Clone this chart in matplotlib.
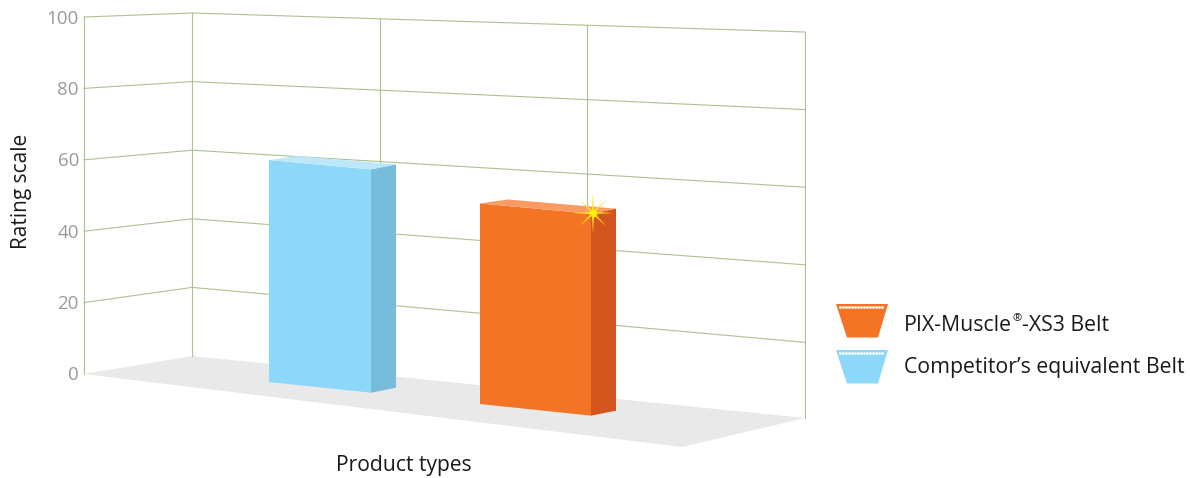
import matplotlib
matplotlib.use("Agg")
import matplotlib.pyplot as plt
import numpy as np
from matplotlib.patches import Polygon

plt.rcParams["font.family"] = ["Open Sans", "DejaVu Sans"]

rating_ticks = [0, 20, 40, 60, 80, 100]
belt_names = [("Competitor’s equivalent Belt", "", ""), ("PIX-Muscle", "®", "-XS3 Belt")]
belt_ratings = [60, 54.2]

GRID = "#adc291"
TICK = "#9a9a9a"
TEXT = "#1a1a1a"
BELT_COLORS = [("#8dd7f8", "#75bdda", "#bfe7fa"), ("#f37424", "#d2551d", "#f89c64")]

# fake 3d: pixel position of value v on the three wall edges
LEFT_X, BACK_X, RIGHT_X = 84, 192, 805
FLOOR_Y = {LEFT_X: 374, BACK_X: 356, RIGHT_X: 420}
PX_PER_UNIT = {LEFT_X: 3.57, BACK_X: 3.43, RIGHT_X: 3.88}


def wall_y(edge, v):
    return FLOOR_Y[edge] - PX_PER_UNIT[edge] * v


def back_wall_y(x, v):
    t = (x - BACK_X) / (RIGHT_X - BACK_X)
    return wall_y(BACK_X, v) * (1 - t) + wall_y(RIGHT_X, v) * t


fig = plt.figure(figsize=(11.9, 4.78), dpi=100)
ax = fig.add_axes([0, 0, 1, 1])
ax.set_xlim(0, 1190)
ax.set_ylim(478, 0)
ax.axis("off")

# floor
ax.add_patch(Polygon([(LEFT_X, FLOOR_Y[LEFT_X]), (BACK_X, FLOOR_Y[BACK_X]),
                      (RIGHT_X, 418), (682, 447)],
                     facecolor="#e9e9e9", edgecolor="none", zorder=1))

# walls
for v in rating_ticks:
    if v > 0:
        ax.plot([LEFT_X, BACK_X, RIGHT_X],
                [wall_y(LEFT_X, v), wall_y(BACK_X, v), wall_y(RIGHT_X, v)],
                color=GRID, lw=0.8, zorder=2)
    ax.text(LEFT_X - 5, wall_y(LEFT_X, v) + 1.5, str(v), color=TICK, fontsize=13.5,
            ha="right", va="center", zorder=5)

for x in [LEFT_X, BACK_X, 380, 587, RIGHT_X]:
    if x == LEFT_X:
        y0, y1 = wall_y(LEFT_X, 0), wall_y(LEFT_X, 100)
    elif x == RIGHT_X:
        y0, y1 = 418, wall_y(RIGHT_X, 100)
    else:
        y0, y1 = back_wall_y(x, 0), back_wall_y(x, 100)
    ax.plot([x, x], [y0, y1], color=GRID, lw=0.8, zorder=2)

# bars
bar_left = [269, 480]
bar_width = [102, 111]
bar_base = [382, 404]
top_slope = 0.092
base_slope = 0.105
depth = (25, -5)
PX_BAR = 3.7

for i, rating in enumerate(belt_ratings):
    front, side, top = BELT_COLORS[i]
    x0, x1 = bar_left[i], bar_left[i] + bar_width[i]
    b0 = bar_base[i]
    b1 = b0 + bar_width[i] * base_slope
    t0 = b0 - rating * PX_BAR
    t1 = t0 + bar_width[i] * top_slope
    dx, dy = depth
    ax.add_patch(Polygon([(x0, t0), (x1, t1), (x1, b1), (x0, b0)],
                         facecolor=front, edgecolor="none", zorder=3))
    ax.add_patch(Polygon([(x1, t1), (x1 + dx, t1 + dy), (x1 + dx, b1 + dy), (x1, b1)],
                         facecolor=side, edgecolor="none", zorder=3))
    ax.add_patch(Polygon([(x0, t0), (x0 + 28, t0 - 4), (x1 + dx, t1 + dy), (x1, t1)],
                         facecolor=top, edgecolor="none", zorder=3))

# sparkle on the orange bar
star_x, star_y = 593, 213
angles = np.linspace(0, 2 * np.pi, 16, endpoint=False)
radii = np.array([21, 2.6, 19, 2.6] * 4)
ax.add_patch(Polygon(np.c_[star_x + radii * np.cos(angles), star_y + radii * np.sin(angles)],
                     facecolor="#ffe21a", edgecolor="none", zorder=4))
ax.scatter([star_x], [star_y], s=30, color="#fff000", linewidths=0, zorder=4)

# legend, v-belt icons
legend_top = [350, 304]
legend_base = [373, 331]
for i, (before, mark, after) in enumerate(belt_names):
    y = legend_top[i]
    color = BELT_COLORS[i][0]
    ax.add_patch(Polygon([(836, y), (888, y), (878, y + 33.5), (847, y + 33.5)],
                         facecolor=color, edgecolor="none", zorder=3))
    ax.plot(np.arange(840, 885, 3), [y + 3.2] * 15, ls="none", marker="o", ms=2,
            mfc="white", mec="none", zorder=4)
    t = ax.text(903.5, legend_base[i], before, color=TEXT, fontsize=15.3, va="baseline", ha="left")
    if mark:
        fig.canvas.draw()
        end = t.get_window_extent().x1
        t2 = ax.text(end + 1, legend_base[i] - 10, mark, color=TEXT, fontsize=8, va="baseline", ha="left")
        end = t2.get_window_extent().x1
        ax.text(end, legend_base[i], after, color=TEXT, fontsize=15.3, va="baseline", ha="left")

ax.text(404, 465.5, "Product types", color=TEXT, fontsize=15.2, ha="center", va="center")
ax.text(22, 191, "Rating scale", color=TEXT, fontsize=15, rotation=90, ha="center", va="center")

plt.savefig("out.png", dpi=100)
